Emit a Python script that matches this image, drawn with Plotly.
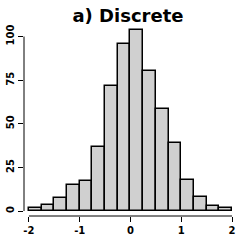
import plotly.graph_objects as go

bin_centers = [-1.875, -1.625, -1.375, -1.125, -0.875, -0.625, -0.375, -0.125,
               0.125, 0.375, 0.625, 0.875, 1.125, 1.375, 1.625, 1.875]
counts = [1.5, 3.6, 7.2, 15, 17.4, 36.7, 71.8, 95.6, 103.8, 80.3, 58.7, 39, 18, 7.8, 3, 1.5]
x_ticks = [-2, -1, 0, 1, 2]
x_tick_labels = ["-2", "-1", "0", "1", "2"]
y_ticks = [0, 25, 50, 75, 100]
title_text = "a) Discrete"

fig = go.Figure(go.Bar(
    x=bin_centers, y=counts, width=0.25,
    marker=dict(color="#d0d0d0", line=dict(color="black", width=1.5)),
))

font_b = "DejaVu Sans"
fig.update_layout(
    width=241, height=241,
    margin=dict(l=21, r=5, t=28, b=23, pad=0),
    paper_bgcolor="white", plot_bgcolor="white",
    showlegend=False, bargap=0,
    title=dict(text="<b>" + title_text + "</b>", x=128 / 241, xanchor="center",
               y=1 - 16 / 241, yanchor="middle", yref="container",
               font=dict(family=font_b, size=18, color="black")),
    xaxis=dict(range=[-2.0966, 2.058], tickvals=x_ticks, ticktext=["<b>%s</b>" % t for t in x_tick_labels],
               ticks="outside", ticklen=5, tickwidth=1, tickcolor="black",
               showgrid=False, zeroline=False, showline=False,
               tickfont=dict(family=font_b, size=10, color="black")),
    yaxis=dict(range=[-2.84, 104.9], tickvals=y_ticks, ticktext=["<b>%d</b>" % t for t in y_ticks],
               ticks="outside", ticklen=5, tickwidth=1, tickcolor="black", tickangle=-90,
               showgrid=False, zeroline=False, showline=False,
               tickfont=dict(family=font_b, size=10, color="black")),
    shapes=[
        dict(type="line", xref="x", yref="paper", x0=-2, x1=2, y0=0, y1=0,
             line=dict(color="black", width=1)),
        dict(type="line", xref="paper", yref="y", x0=0, x1=0, y0=0, y1=100,
             line=dict(color="black", width=1)),
    ],
)

fig.write_html("out.html")
